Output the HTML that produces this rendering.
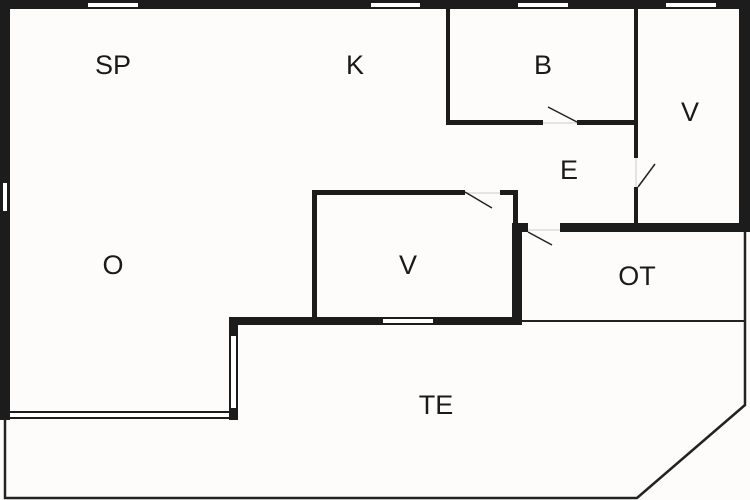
<!DOCTYPE html>
<html><head><style>body{margin:0;background:#fdfcfa}svg{display:block}text{font-family:"Liberation Sans",sans-serif;font-size:27px;fill:#1a1a1a;text-anchor:middle;dominant-baseline:central}</style></head><body>
<svg width="750" height="500" viewBox="0 0 750 500">
<rect width="750" height="500" fill="#fdfcfa"/>
<g fill="#1c1c1c">
<rect x="0" y="0" width="750" height="9"/>
<rect x="0" y="0" width="10" height="420"/>
<rect x="739" y="0" width="11" height="232"/>
<rect x="446" y="0" width="4" height="125"/>
<rect x="446" y="120" width="97" height="5"/>
<rect x="577" y="120" width="61" height="5"/>
<rect x="634" y="0" width="4" height="158"/>
<rect x="634" y="187" width="4" height="42"/>
<rect x="560" y="223" width="190" height="9"/>
<rect x="312" y="190" width="153" height="5"/>
<rect x="500" y="190" width="18" height="5"/>
<rect x="513" y="190" width="5" height="35"/>
<rect x="312" y="190" width="5" height="132"/>
<rect x="512" y="223" width="10" height="102"/>
<rect x="512" y="223" width="16" height="9"/>
<rect x="229" y="317" width="293" height="8"/>
<rect x="229" y="317" width="9" height="103"/>
<rect x="0" y="411" width="238" height="8"/>
</g>
<g fill="#fff">
<rect x="88" y="3" width="50" height="4"/>
<rect x="371" y="3" width="49" height="4"/>
<rect x="518" y="3" width="50" height="4"/>
<rect x="666" y="3" width="50" height="4"/>
<rect x="3" y="183" width="4" height="28"/>
<rect x="383" y="319" width="50" height="4"/>
<rect x="231" y="336" width="5" height="72"/>
<rect x="10" y="413" width="219" height="4"/>
</g>
<g stroke="#ccc" stroke-width="1">
<line x1="543" y1="123" x2="577" y2="123"/><line x1="636" y1="158" x2="636" y2="187"/>
<line x1="465" y1="193" x2="500" y2="193"/><line x1="528" y1="230" x2="560" y2="230"/>
</g>
<g stroke="#222" stroke-width="1.5" fill="none">
<line x1="548" y1="107" x2="577" y2="122"/>
<line x1="638" y1="187" x2="655" y2="164"/>
<line x1="465" y1="192" x2="492" y2="208"/>
<line x1="528" y1="232" x2="552" y2="245"/>
<line x1="522" y1="321" x2="745" y2="321" stroke-width="2"/>
<polyline points="5,419 5,498 637,498 745,405 745,232" stroke-width="2.5"/>
</g>
<text x="113" y="65">SP</text><text x="355" y="65">K</text><text x="543" y="65">B</text>
<text x="690" y="112">V</text><text x="569" y="170">E</text><text x="113" y="265">O</text>
<text x="408" y="265">V</text><text x="637" y="276">OT</text><text x="436" y="405">TE</text>
</svg></body></html>
